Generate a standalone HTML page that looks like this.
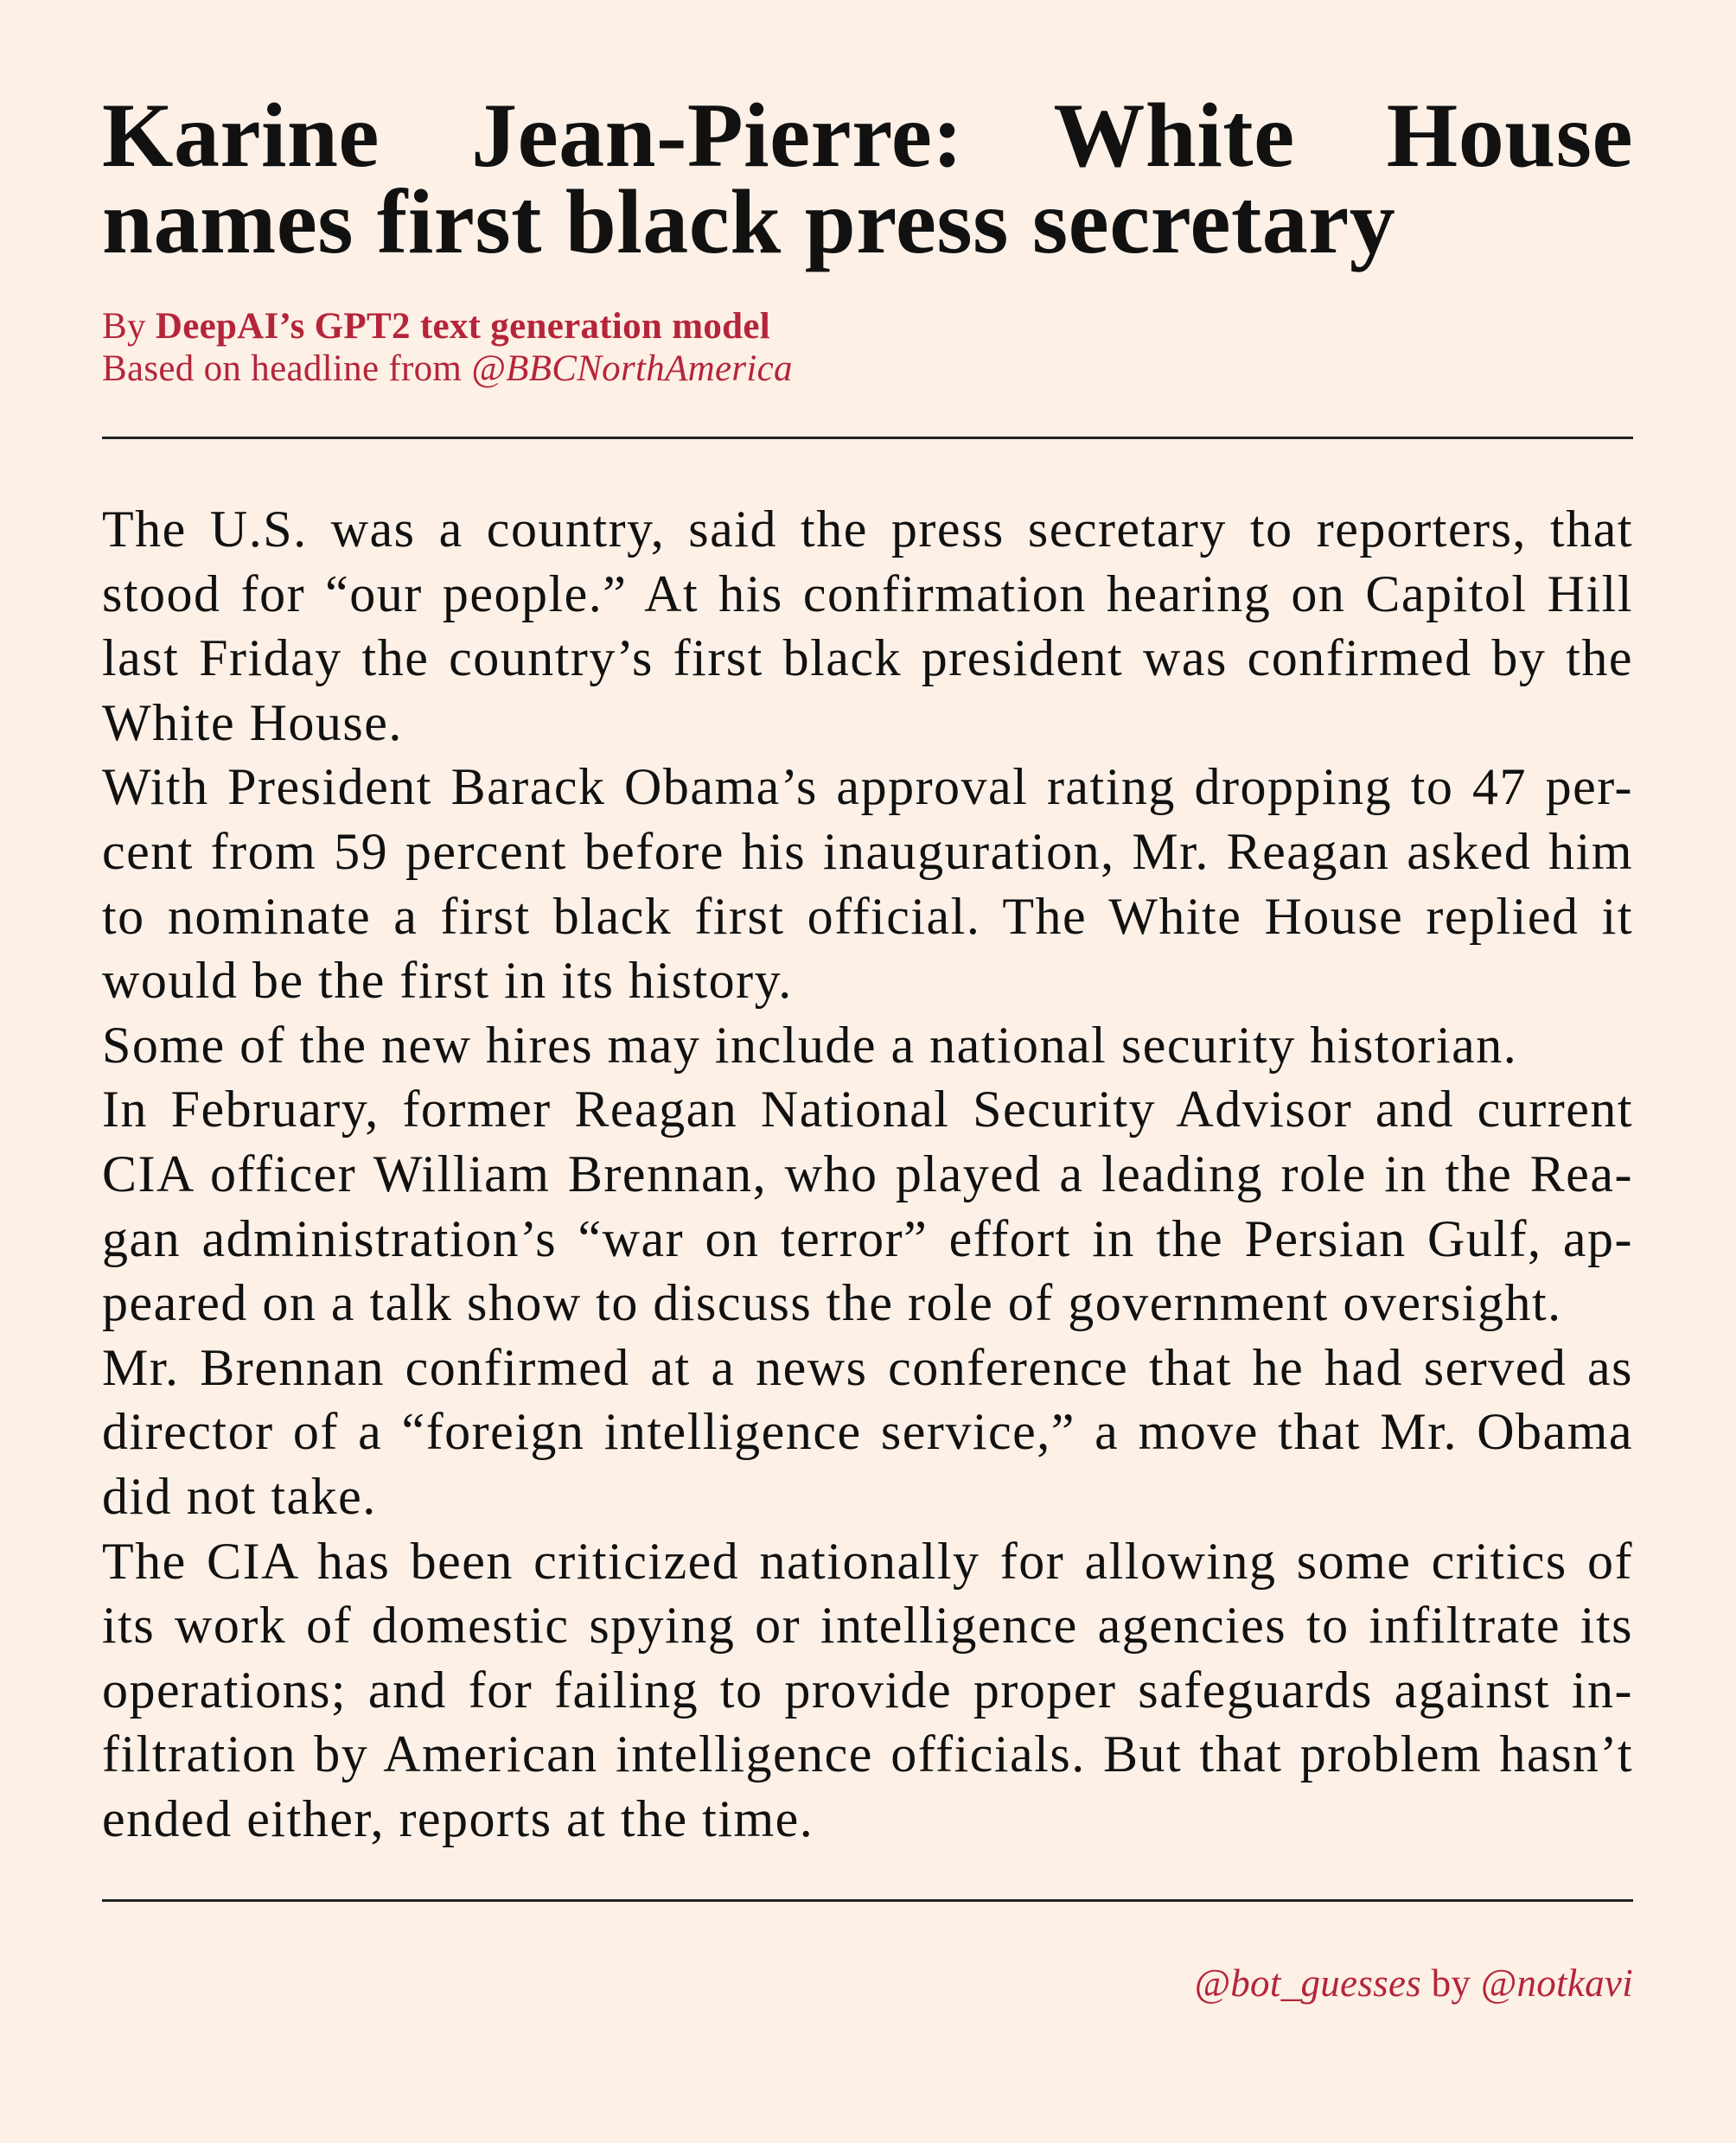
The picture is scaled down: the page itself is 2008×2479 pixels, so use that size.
<!DOCTYPE html>
<html><head><meta charset="utf-8"><style>
html,body{margin:0;padding:0}
body{width:2008px;height:2479px;background:#fdf0e6;position:relative;overflow:hidden;font-family:"Liberation Serif",serif;color:#111}
.abs{position:absolute;left:118px;width:1771px}
.title{top:107px;font-size:106px;line-height:100px;font-weight:bold;letter-spacing:0.5px}
.title div,.body div.j{text-align:justify;text-align-last:justify}
.by{top:353px;font-size:43px;line-height:49px;color:#b5253a;letter-spacing:0.3px}
.rule{position:absolute;left:118px;width:1771px;height:3px;background:#222}
.body{top:575px;font-size:60px;line-height:74.6px;letter-spacing:1.5px}
.body div{white-space:nowrap}
.body div.j{white-space:normal}
.foot{top:2270px;font-size:45px;line-height:49px;color:#b5253a;text-align:right;letter-spacing:0.3px}
</style></head><body>
<div class="abs title">
<div>Karine Jean-Pierre: White House</div>
<div style="text-align-last:left">names first black press secretary</div>
</div>
<div class="abs by">
<div>By <b>DeepAI’s GPT2 text generation model</b></div>
<div>Based on headline from <i>@BBCNorthAmerica</i></div>
</div>
<div class="rule" style="top:505px"></div>
<div class="abs body">
<div class="j">The U.S. was a country, said the press secretary to reporters, that</div>
<div class="j">stood for “our people.” At his confirmation hearing on Capitol Hill</div>
<div class="j">last Friday the country’s first black president was confirmed by the</div>
<div>White House.</div>
<div class="j">With President Barack Obama’s approval rating dropping to 47 per-</div>
<div class="j">cent from 59 percent before his inauguration, Mr. Reagan asked him</div>
<div class="j">to nominate a first black first official. The White House replied it</div>
<div>would be the first in its history.</div>
<div>Some of the new hires may include a national security historian.</div>
<div class="j">In February, former Reagan National Security Advisor and current</div>
<div class="j">CIA officer William Brennan, who played a leading role in the Rea-</div>
<div class="j">gan administration’s “war on terror” effort in the Persian Gulf, ap-</div>
<div>peared on a talk show to discuss the role of government oversight.</div>
<div class="j">Mr. Brennan confirmed at a news conference that he had served as</div>
<div class="j">director of a “foreign intelligence service,” a move that Mr. Obama</div>
<div>did not take.</div>
<div class="j">The CIA has been criticized nationally for allowing some critics of</div>
<div class="j">its work of domestic spying or intelligence agencies to infiltrate its</div>
<div class="j">operations; and for failing to provide proper safeguards against in-</div>
<div class="j">filtration by American intelligence officials. But that problem hasn’t</div>
<div>ended either, reports at the time.</div>
</div>
<div class="rule" style="top:2197px"></div>
<div class="abs foot"><i>@bot_guesses</i> by <i>@notkavi</i></div>
</body></html>
